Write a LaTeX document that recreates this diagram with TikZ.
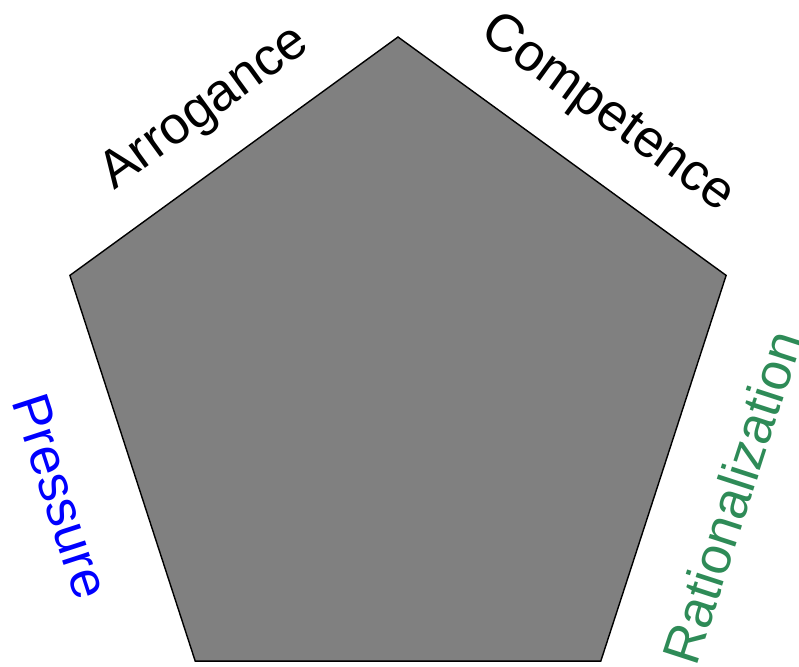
\documentclass[tikz,border=0pt]{standalone}
\usepackage{fontspec}
\setmainfont{Liberation Sans}
\usepackage{xcolor}
\usepackage{tikz}
\usetikzlibrary{calc}
\tikzset{
  pentaface/.style={fill=PentaGray, draw=black, line width=1pt, line join=miter},
  sidelabel/.style={font=\fontsize{37.5}{45}\selectfont, inner sep=0pt, anchor=center}
}
\definecolor{PentaGray}{HTML}{808080}
\definecolor{PentaBlue}{HTML}{0000FF}
\definecolor{PentaGreen}{HTML}{2E8B57}

\begin{document}
\begin{tikzpicture}[x=0.025cm, y=0.025cm]
\useasboundingbox (0,0) rectangle (799,666);
\coordinate (ctr) at (398,284);

% pentagon corners
\coordinate (top) at ($(ctr)+(90:345)$);
\coordinate (ul) at ($(ctr)+(162:345)$);
\coordinate (bl) at ($(ctr)+(234:345)$);
\coordinate (br) at ($(ctr)+(306:345)$);
\coordinate (ur) at ($(ctr)+(18:345)$);
\draw[pentaface] (top) -- (ul) -- (bl) -- (br) -- (ur) -- cycle;

% labels along the sides
\node[sidelabel, rotate=36] (arrog) at ($(ctr)+(125.2:334)$) {Arrogance};
\node[sidelabel, rotate=-36] (compet) at ($(ctr)+(52:340)$) {Competence};
\node[sidelabel, rotate=-72, text=PentaBlue] (press) at ($(ctr)+(198.7:356)$) {Pressure};
\node[sidelabel, rotate=72, text=PentaGreen] (ration) at ($(ctr)+(-19:353)$) {Rationalization};
\end{tikzpicture}
\end{document}
